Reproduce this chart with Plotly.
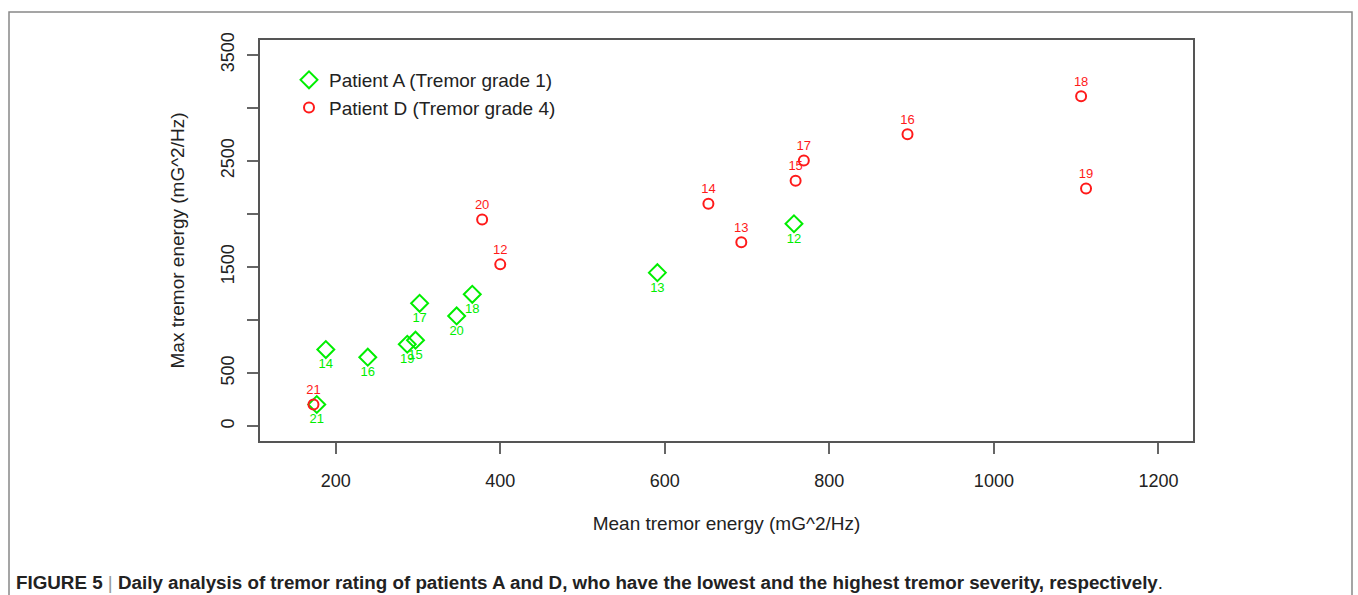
import plotly.graph_objects as go

# ---- data ----
a_days = ["21", "14", "16", "19", "15", "17", "20", "18", "13", "12"]
a_mean = [177, 188, 239, 287, 297, 302, 347, 366, 591, 757]
a_max = [204, 722, 650, 772, 810, 1158, 1039, 1243, 1447, 1908]

d_days = ["21", "20", "12", "14", "13", "15", "17", "16", "18", "19"]
d_mean = [173, 378, 400, 653, 693, 759, 769, 895, 1106, 1112]
d_max = [204, 1949, 1525, 2097, 1733, 2313, 2505, 2752, 3110, 2241]

x_ticks = [200, 400, 600, 800, 1000, 1200]
y_ticks = [0, 500, 1000, 1500, 2000, 2500, 3000, 3500]
y_ticktext = ["0", "500", "", "1500", "", "2500", "", "3500"]

caption = ("<b>FIGURE 5</b> <span style='color:#999999'>|</span> <b>Daily analysis of tremor rating of "
           "patients A and D, who have the lowest and the highest tremor severity, respectively</b>.")

# ---- layout geometry (pixels) ----
W, H = 1358, 595
L, R, T, B = 260, 1193, 40, 441
pw, ph = R - L, B - T


def px(x):
    return (x - L) / pw


def py(y):
    return (B - y) / ph


FONT = "Liberation Sans, Arial, sans-serif"
GREEN = "#00ee00"
RED = "#ff1a1a"
TXT = "#222222"

fig = go.Figure()
fig.add_trace(go.Scatter(
    x=a_mean, y=a_max, text=a_days, mode="markers+text",
    textposition="bottom center",
    textfont=dict(color=GREEN, size=13, family=FONT),
    marker=dict(symbol="diamond-open", size=13, color=GREEN, line=dict(width=2, color=GREEN)),
    name="Patient A (Tremor grade 1)",
))
fig.add_trace(go.Scatter(
    x=d_mean, y=d_max, text=d_days, mode="markers+text",
    textposition="top center",
    textfont=dict(color=RED, size=13, family=FONT),
    marker=dict(symbol="circle-open", size=10, color=RED, line=dict(width=2, color=RED)),
    name="Patient D (Tremor grade 4)",
))

fig.update_layout(
    width=W, height=H,
    margin=dict(l=L, r=W - R, t=T, b=H - B),
    paper_bgcolor="white", plot_bgcolor="white",
    font=dict(family=FONT, size=17, color=TXT),
    showlegend=True,
    legend=dict(
        x=px(289), y=py(61), xanchor="left", yanchor="top",
        bgcolor="rgba(0,0,0,0)", borderwidth=0,
        font=dict(size=19, color=TXT, family=FONT),
        itemclick=False, itemdoubleclick=False,
    ),
    xaxis=dict(
        range=[108, 1242], tickvals=x_ticks, ticktext=[str(v) for v in x_ticks],
        ticks="outside", ticklen=11, tickwidth=1.5, tickcolor="#666666",
        showgrid=False, zeroline=False,
        showline=True, mirror=True, linecolor="#555555", linewidth=1.5,
        ticklabelstandoff=12,
        tickfont=dict(size=18, family=FONT, color=TXT),
        title=dict(text="Mean tremor energy (mG^2/Hz)", standoff=26,
                   font=dict(size=19, family=FONT, color=TXT)),
    ),
    yaxis=dict(
        range=[-140, 3640], tickvals=y_ticks, ticktext=y_ticktext,
        tickangle=-90,
        ticks="outside", ticklen=11, tickwidth=1.5, tickcolor="#666666",
        showgrid=False, zeroline=False,
        showline=True, mirror=True, linecolor="#555555", linewidth=1.5,
        ticklabelstandoff=6,
        tickfont=dict(size=18, family=FONT, color=TXT),
        title=dict(text="Max tremor energy (mG^2/Hz)", standoff=28,
                   font=dict(size=19, family=FONT, color=TXT)),
    ),
    shapes=[dict(
        type="rect", xref="paper", yref="paper",
        x0=px(9), x1=px(1352), y0=py(620), y1=py(12),
        line=dict(color="#888888", width=1.5), fillcolor="rgba(0,0,0,0)", layer="below",
    )],
    annotations=[dict(
        text=caption, xref="paper", yref="paper",
        x=px(14), y=py(582), xanchor="left", yanchor="middle", showarrow=False,
        font=dict(size=18.8, family=FONT, color=TXT),
    )],
)

fig.write_html("out.html")
